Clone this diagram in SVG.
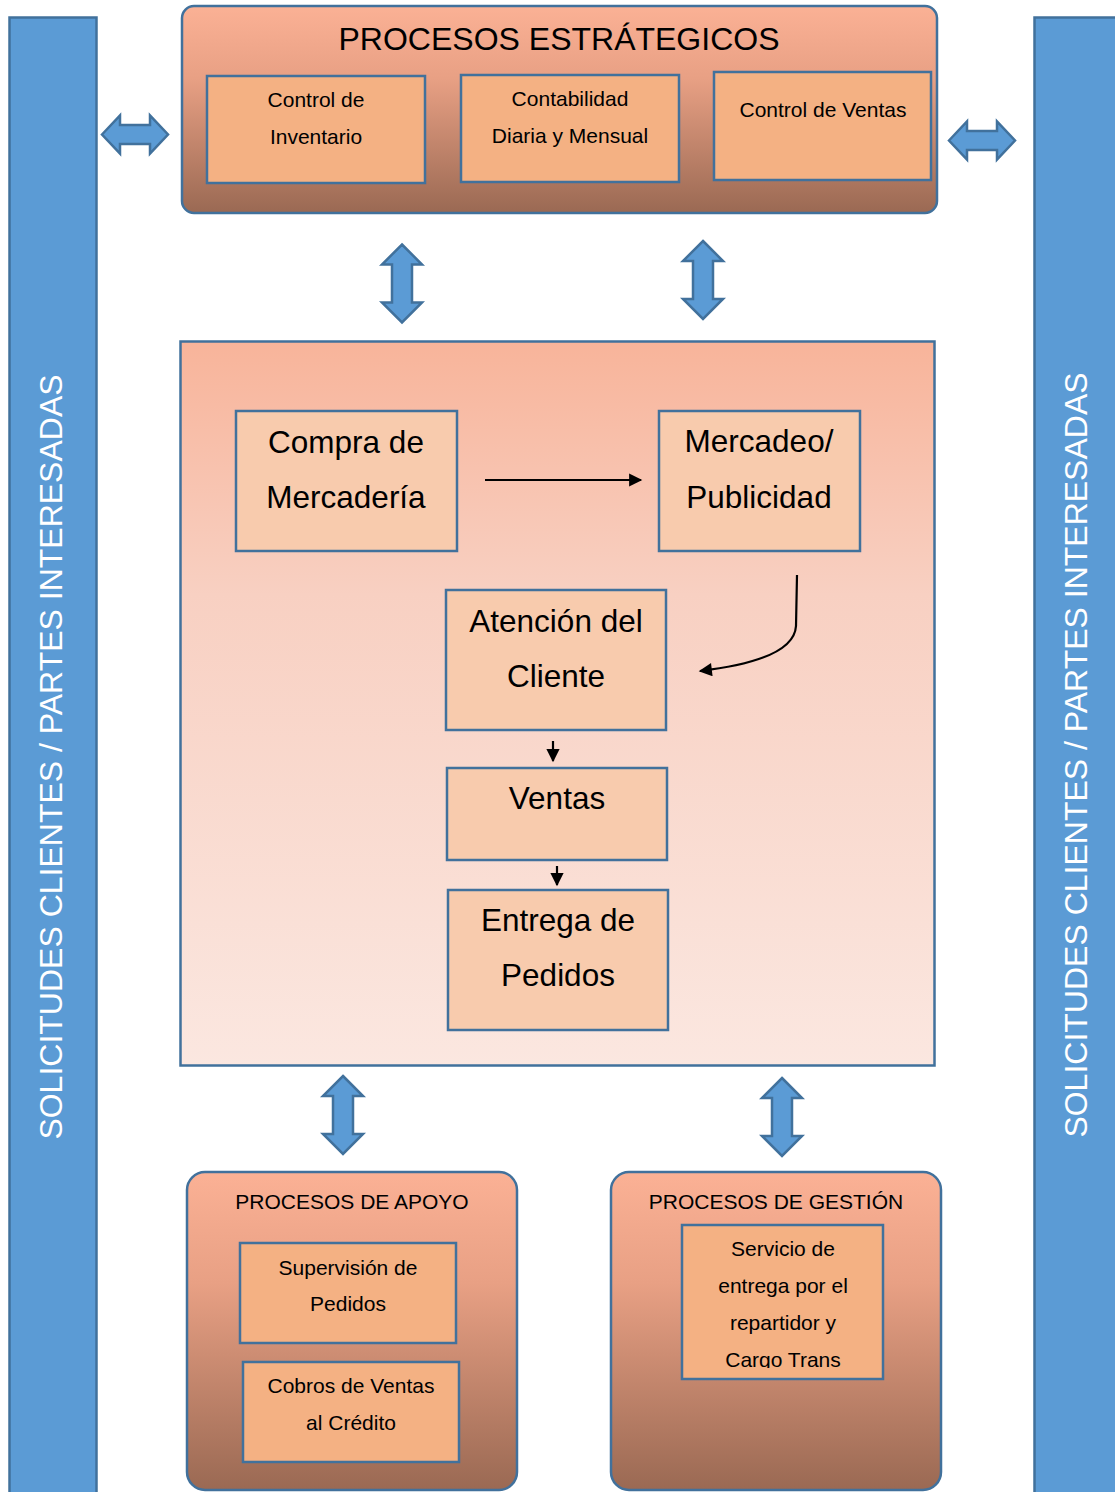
<svg xmlns="http://www.w3.org/2000/svg" width="1115" height="1492" viewBox="0 0 1115 1492">
  <style>
    .bar { fill: #5b9bd5; stroke: #41719c; stroke-width: 2.5; }
    .dbl { fill: #5b9bd5; stroke: #41719c; stroke-width: 2.5; stroke-linejoin: miter; }
    .outer { stroke: #41719c; stroke-width: 2.5; }
    .inner { fill: #f4b183; stroke: #41719c; stroke-width: 2.5; }
    .node { fill: #f8cbad; stroke: #41719c; stroke-width: 2.5; }
    .t { font-family: "Liberation Sans", Arial, sans-serif; fill: #000; text-anchor: middle; }
    .side { font-family: "Liberation Sans", Arial, sans-serif; fill: #ffffff; font-size: 32px; text-anchor: middle; }
    .flow { fill: none; stroke: #000; stroke-width: 2.2; }
  </style>
  <defs>
    <linearGradient id="gradDark" x1="0" y1="0" x2="0" y2="1">
      <stop offset="0" stop-color="#fbb195"/>
      <stop offset="0.35" stop-color="#e8a084"/>
      <stop offset="1" stop-color="#9a6953"/>
    </linearGradient>
    <linearGradient id="gradLight" x1="0" y1="0" x2="0" y2="1">
      <stop offset="0" stop-color="#f8b49a"/>
      <stop offset="0.35" stop-color="#f8d0c2"/>
      <stop offset="1" stop-color="#fbe7e0"/>
    </linearGradient>
    <marker id="head" viewBox="0 0 10 10" refX="9" refY="5" markerWidth="6.5" markerHeight="6" orient="auto" markerUnits="strokeWidth">
      <path d="M0,0 L10,5 L0,10 Z" fill="#000"/>
    </marker>
    <path id="vArrow" d="M0,-39 L20,-19 L10,-19 L10,19 L20,19 L0,39 L-20,19 L-10,19 L-10,-19 L-20,-19 Z"/>
    <path id="hArrow" d="M-33,0 L-15,-19 L-15,-9.5 L15,-9.5 L15,-19 L33,0 L15,19 L15,9.5 L-15,9.5 L-15,19 Z"/>
    <clipPath id="clipServ">
      <rect x="684" y="1226" width="198" height="142"/>
    </clipPath>
  </defs>

  <rect width="1115" height="1492" fill="#ffffff"/>

  <!-- stakeholder bars -->
  <g id="bar-left">
    <rect class="bar" x="9.5" y="17.5" width="87" height="1490"/>
    <text class="side" transform="translate(62,757) rotate(-90)">SOLICITUDES CLIENTES / PARTES INTERESADAS</text>
  </g>
  <g id="bar-right">
    <rect class="bar" x="1034.5" y="17.5" width="95" height="1490"/>
    <text class="side" transform="translate(1087,755) rotate(-90)">SOLICITUDES CLIENTES / PARTES INTERESADAS</text>
  </g>

  <!-- strategic processes -->
  <g id="estrategicos">
    <rect class="outer" x="182" y="6" width="755" height="207" rx="12" fill="url(#gradDark)"/>
    <text class="t" x="559" y="50" font-size="32">PROCESOS ESTRÁTEGICOS</text>
  </g>
  <g id="control-inventario">
    <rect class="inner" x="207" y="76" width="218" height="107"/>
    <text class="t" x="316" y="107" font-size="21">Control de</text>
    <text class="t" x="316" y="144" font-size="21">Inventario</text>
  </g>
  <g id="contabilidad">
    <rect class="inner" x="461" y="75" width="218" height="107"/>
    <text class="t" x="570" y="106" font-size="21">Contabilidad</text>
    <text class="t" x="570" y="143" font-size="21">Diaria y Mensual</text>
  </g>
  <g id="control-ventas">
    <rect class="inner" x="714" y="72" width="217" height="108"/>
    <text class="t" x="823" y="117" font-size="21">Control de Ventas</text>
  </g>

  <!-- operational processes -->
  <g id="operativos">
    <rect x="180.5" y="341.5" width="754" height="724" fill="url(#gradLight)" stroke="#41719c" stroke-width="2.5"/>
  </g>
  <g id="compra">
    <rect class="node" x="236" y="411" width="221" height="140"/>
    <text class="t" x="346" y="453" font-size="31.5">Compra de</text>
    <text class="t" x="346" y="508" font-size="31.5">Mercadería</text>
  </g>
  <g id="mercadeo">
    <rect class="node" x="659" y="411" width="201" height="140"/>
    <text class="t" x="759" y="452" font-size="31.5">Mercadeo/</text>
    <text class="t" x="759" y="508" font-size="31.5">Publicidad</text>
  </g>
  <g id="atencion">
    <rect class="node" x="446" y="590" width="220" height="140"/>
    <text class="t" x="556" y="632" font-size="31.5">Atención del</text>
    <text class="t" x="556" y="687" font-size="31.5">Cliente</text>
  </g>
  <g id="ventas">
    <rect class="node" x="447" y="768" width="220" height="92"/>
    <text class="t" x="557" y="809" font-size="31.5">Ventas</text>
  </g>
  <g id="entrega">
    <rect class="node" x="448" y="890" width="220" height="140"/>
    <text class="t" x="558" y="931" font-size="31.5">Entrega de</text>
    <text class="t" x="558" y="986" font-size="31.5">Pedidos</text>
  </g>

  <!-- support processes -->
  <g id="apoyo">
    <rect class="outer" x="187" y="1172" width="330" height="318" rx="18" fill="url(#gradDark)"/>
    <text class="t" x="352" y="1209" font-size="21">PROCESOS DE APOYO</text>
  </g>
  <g id="supervision">
    <rect class="inner" x="240" y="1243" width="216" height="100"/>
    <text class="t" x="348" y="1275" font-size="21">Supervisión de</text>
    <text class="t" x="348" y="1311" font-size="21">Pedidos</text>
  </g>
  <g id="cobros">
    <rect class="inner" x="243" y="1362" width="216" height="100"/>
    <text class="t" x="351" y="1393" font-size="21">Cobros de Ventas</text>
    <text class="t" x="351" y="1430" font-size="21">al Crédito</text>
  </g>

  <!-- management processes -->
  <g id="gestion">
    <rect class="outer" x="611" y="1172" width="330" height="318" rx="18" fill="url(#gradDark)"/>
    <text class="t" x="776" y="1209" font-size="21">PROCESOS DE GESTIÓN</text>
  </g>
  <g id="servicio">
    <rect class="inner" x="682" y="1225" width="201" height="154"/>
    <g clip-path="url(#clipServ)">
      <text class="t" x="783" y="1256" font-size="21">Servicio de</text>
      <text class="t" x="783" y="1293" font-size="21">entrega por el</text>
      <text class="t" x="783" y="1330" font-size="21">repartidor y</text>
      <text class="t" x="783" y="1367" font-size="21">Cargo Trans</text>
    </g>
  </g>

  <!-- connectors -->
  <g id="connectors">
    <use href="#hArrow" class="dbl" transform="translate(135,134.5)"/>
    <use href="#hArrow" class="dbl" transform="translate(982,140.5)"/>
    <use href="#vArrow" class="dbl" transform="translate(402,283.5)"/>
    <use href="#vArrow" class="dbl" transform="translate(703,280)"/>
    <use href="#vArrow" class="dbl" transform="translate(343,1115)"/>
    <use href="#vArrow" class="dbl" transform="translate(782,1117)"/>

    <path class="flow" d="M485,480 L641,480" marker-end="url(#head)"/>
    <path class="flow" d="M797,575 L796,626 Q794,660 700,671" marker-end="url(#head)"/>
    <path class="flow" d="M553,741 L553,761" marker-end="url(#head)"/>
    <path class="flow" d="M557,866 L557,885" marker-end="url(#head)"/>
  </g>
</svg>
